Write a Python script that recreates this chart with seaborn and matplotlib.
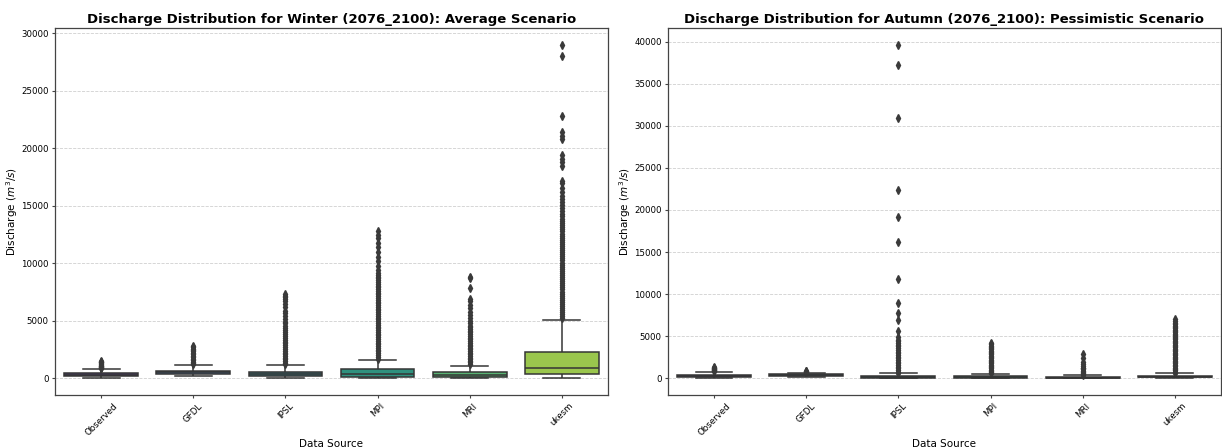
import numpy as np
import pandas as pd
import matplotlib
matplotlib.use("Agg")
import matplotlib.pyplot as plt
import seaborn as sns

sources = ["Observed", "GFDL", "IPSL", "MPI", "MRI", "ukesm"]

# ---- Winter (2076_2100), Average scenario: box summary
w_low    = [80, 200, 50, 50, 0, 10]
w_q1     = [200, 350, 200, 170, 170, 400]
w_median = [320, 520, 380, 380, 330, 870]
w_q3     = [460, 690, 600, 780, 600, 2320]
w_high   = [780, 1130, 1150, 1620, 1050, 5090]
w_out_observed = [870, 910, 960, 1010, 1060, 1120, 1180, 1250, 1320, 1400, 1470, 1540]
w_out_gfdl = [1220, 1340, 1470, 1600, 1730, 1850, 1980, 2100, 2230, 2350, 2480, 2600, 2720, 2830]
w_out_ipsl = [1220, 1360, 1500, 1650, 1800, 1950, 2100, 2250, 2400, 2560, 2720, 2880,
              3050, 3200, 3380, 3550, 3720, 3900, 4080, 4250, 4420, 4600, 4780, 4950,
              5150, 5400, 5650, 5900, 6200, 6450, 6700, 6900, 7050, 7200, 7350]
w_out_mpi = [1720, 1880, 2040, 2190, 2350, 2500, 2660, 2810, 2960, 3120, 3270, 3430,
             3580, 3740, 3890, 4050, 4200, 4360, 4510, 4670, 4820, 4980, 5130, 5290,
             5440, 5600, 5750, 5910, 6060, 6220, 6370, 6530, 6680, 6840, 6990, 7150,
             7300, 7460, 7610, 7770, 7920, 8080, 8230, 8390, 8540, 8700, 8850, 9000,
             9200, 9450, 9800, 10200, 10600, 11000, 11400, 11800, 12200, 12500, 12800]
w_out_mri = [1260, 1400, 1540, 1680, 1820, 1960, 2100, 2240, 2380, 2520, 2660, 2800,
             2950, 3100, 3250, 3400, 3550, 3700, 3850, 4000, 4150, 4300, 4450, 4600,
             4800, 5000, 5250, 5500, 5800, 6100, 6400, 6700, 6900, 7900, 8700, 8850]
w_out_ukesm = [5220, 5400, 5580, 5760, 5940, 6120, 6300, 6480, 6660, 6840, 7020, 7200,
               7380, 7560, 7740, 7920, 8100, 8280, 8460, 8640, 8820, 9000, 9180, 9360,
               9540, 9720, 9900, 10080, 10260, 10440, 10620, 10800, 10980, 11160, 11340,
               11520, 11700, 11880, 12060, 12240, 12420, 12600, 12780, 12960, 13140,
               13320, 13500, 13700, 13900, 14100, 14300, 14550, 14800, 15050, 15300,
               15600, 15900, 16200, 16600, 17000, 17200, 18500, 18800, 19100, 19400,
               20800, 21100, 21400, 22800, 28000, 29000]
w_outliers = [w_out_observed, w_out_gfdl, w_out_ipsl, w_out_mpi, w_out_mri, w_out_ukesm]

# ---- Autumn (2076_2100), Pessimistic scenario
a_low    = [30, 150, 0, 0, 0, 10]
a_q1     = [200, 300, 80, 80, 60, 120]
a_median = [300, 380, 160, 150, 110, 200]
a_q3     = [450, 480, 300, 280, 200, 330]
a_high   = [800, 700, 600, 560, 400, 640]
a_out_observed = [840, 900, 960, 1020, 1080, 1150, 1220, 1300, 1400]
a_out_gfdl = [760, 800, 850, 900]
a_out_ipsl = [650, 800, 1000, 1200, 1400, 1600, 1800, 2000, 2200, 2400, 2600, 2800,
              3000, 3200, 3400, 3600, 3800, 4000, 4200, 4400, 4600, 4900, 5600, 6900,
              7800, 8900, 11800, 16200, 19200, 22400, 30900, 37200, 39600]
a_out_mpi = [600, 750, 900, 1050, 1200, 1350, 1500, 1650, 1800, 1950, 2100, 2250,
             2400, 2550, 2700, 2850, 3000, 3150, 3300, 3450, 3600, 3750, 3900, 4050, 4200]
a_out_mri = [420, 550, 680, 810, 940, 1070, 1200, 1300, 1500, 1700, 1910, 2390, 2900]
a_out_ukesm = [660, 820, 980, 1140, 1300, 1460, 1620, 1780, 1940, 2100, 2260, 2420,
               2580, 2740, 2900, 3060, 3220, 3380, 3540, 3700, 3860, 4020, 4180, 4340,
               4500, 4660, 4820, 4980, 5140, 5300, 5460, 5620, 5780, 5940, 6100, 6260,
               6420, 6580, 6800, 7000]
a_outliers = [a_out_observed, a_out_gfdl, a_out_ipsl, a_out_mpi, a_out_mri, a_out_ukesm]

titles = ["Discharge Distribution for Winter (2076_2100): Average Scenario",
          "Discharge Distribution for Autumn (2076_2100): Pessimistic Scenario"]
ylabel = "Discharge ($m^3/s$)"
xlabel = "Data Source"


def build_frame(low, q1, med, q3, high, outliers, m=2000):
    rows_src, rows_val = [], []
    for i, s in enumerate(sources):
        vals = [low[i]] + [q1[i]] * m + [med[i]] * m + [q3[i]] * m + [high[i]] + list(outliers[i])
        rows_src += [s] * len(vals)
        rows_val += vals
    return pd.DataFrame({"Data Source": rows_src, "Discharge": rows_val})


frames = [build_frame(w_low, w_q1, w_median, w_q3, w_high, w_outliers),
          build_frame(a_low, a_q1, a_median, a_q3, a_high, a_outliers)]

plt.rcParams["font.family"] = ["DejaVu Sans"]
fig = plt.figure(figsize=(12.22, 4.48), dpi=100)
axes = [fig.add_axes([0.045, 0.118, 0.4525, 0.819]),
        fig.add_axes([0.5466, 0.118, 0.4525, 0.819])]

palette = sns.color_palette("viridis", len(sources))
for ax, df, title in zip(axes, frames, titles):
    sns.boxplot(data=df, x="Data Source", y="Discharge", hue="Data Source",
                order=sources, hue_order=sources, palette=palette, legend=False,
                ax=ax, linewidth=1.1, saturation=0.75,
                flierprops=dict(marker="d", markersize=3.8,
                                markerfacecolor="#3a3a3a", markeredgecolor="#3a3a3a"))
    ax.set_title(title, fontsize=9.5, fontweight="bold", pad=4)
    ax.set_xlabel(xlabel, fontsize=7.5, labelpad=1)
    ax.set_ylabel(ylabel, fontsize=7.5, labelpad=1)
    ax.tick_params(axis="both", labelsize=6.2, length=2.5, pad=2, color="#444444")
    ax.tick_params(axis="x", labelrotation=45)
    ax.grid(axis="y", linestyle="--", alpha=0.7, linewidth=0.6, color="#bbbbbb")
    ax.set_axisbelow(True)
    for sp in ax.spines.values():
        sp.set_color("#444444")
        sp.set_linewidth(0.9)

fig.savefig("out.png", dpi=100)
